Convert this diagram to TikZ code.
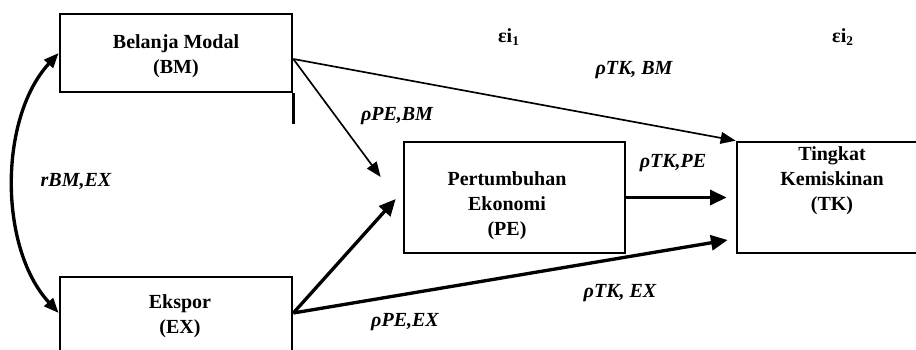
\documentclass[tikz,border=0pt]{standalone}
\usepackage{fontspec}
\setmainfont{Liberation Serif}
\usetikzlibrary{arrows.meta, calc}
\newcommand{\hurufbesar}{\fontsize{12}{15}\selectfont}
\tikzset{
    x=0.6pt, y=-0.6pt, % one unit is one pixel of the picture, y runs downwards
    kotak/.style={draw, line width=1.6pt, rectangle, inner sep=0pt}, % the boxes of the variables
    isi/.style={font=\hurufbesar\bfseries, align=center}, % names inside the boxes
    koef/.style={font=\hurufbesar\bfseries\itshape}, % the path coefficients
    galat/.style={font=\hurufbesar\bfseries}, % the error terms
    tipis/.style={-{Triangle[length=9pt, width=7pt]}, line width=1pt}, % thin arrows
    tebal/.style={-{Triangle[length=10pt, width=9pt]}, line width=2pt}, % thick arrows
    dua/.style={{Triangle[length=9pt, width=7pt]}-{Triangle[length=9pt, width=7pt]}, line width=2pt}, % correlation
}
\begin{document}
\begin{tikzpicture}
\useasboundingbox (0,0) rectangle (916,349);
\clip (0,0) rectangle (916,349);
% boxes
\node[kotak, minimum width=139.2pt, minimum height=46.8pt] (bm) at (176,53) {};
\node[kotak, minimum width=139.2pt, minimum height=49.2pt] (ex) at (176,318) {};
\node[kotak, minimum width=132.6pt, minimum height=66.6pt] (pe) at (514.5,197.5) {};
\node[kotak, minimum width=114pt, minimum height=66.6pt] (tk) at (832,197.5) {};
\draw[line width=1.6pt] (bm.south east) -- ++(0,31);
% names
\node[isi] (bmteks) at (176,56) {Belanja Modal\\(BM)};
\node[isi] (exteks) at (180,316) {Ekspor\\(EX)};
\node[isi] (peteks) at (507,206) {Pertumbuhan\\Ekonomi\\(PE)};
\node[isi] (tkteks) at (832,181) {Tingkat\\Kemiskinan\\(TK)};
% arrows
\draw[tipis] ($(bm.east)+(0,6)$) -- (tk.north west);
\draw[tipis] ($(bm.east)+(0,6)$) -- ($(pe.west)+(-22,-20.5)$);
\draw[tebal] ($(ex.east)+(0,-5)$) -- ($(pe.west)+(-7,1.5)$);
\draw[tebal] ($(ex.east)+(0,-5)$) -- ($(tk.west)+(-8,42.5)$);
\draw[tebal] (pe.east) -- ($(tk.west)+(-9,0)$);
\draw[dua] (bm.west) .. controls +(-60,65) and +(-60,-65) .. ($(ex.west)+(0,-5)$);
% coefficients
\node[galat] (e1) at (509,37) {εi\textsubscript{1}};
\node[galat] (e2) at (843,37) {εi\textsubscript{2}};
\node[koef] (ktkbm) at (634,70) {ρTK, BM};
\node[koef] (kpebm) at (397,116) {ρPE,BM};
\node[koef] (ktkpe) at (673,163) {ρTK,PE};
\node[koef] (rbmex) at (76,181) {rBM,EX};
\node[koef] (ktkex) at (620,293) {ρTK, EX};
\node[koef] (kpeex) at (405,322) {ρPE,EX};
\end{tikzpicture}
\end{document}
